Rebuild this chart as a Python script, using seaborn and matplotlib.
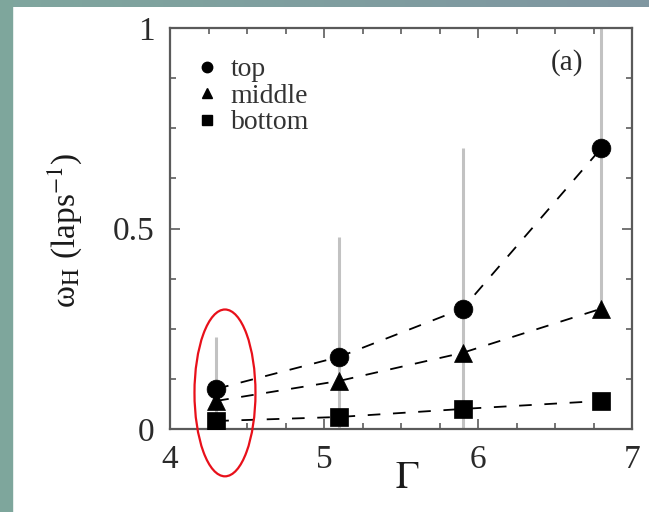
import numpy as np
import pandas as pd
import matplotlib
matplotlib.use("Agg")
import matplotlib.pyplot as plt
from matplotlib.patches import Ellipse, Rectangle
from matplotlib.lines import Line2D
from matplotlib.ticker import MultipleLocator
import seaborn as sns

# Hopping frequency versus shaking strength for three layer positions
gamma = [4.3, 5.1, 5.9, 6.8]
omega_top = [0.10, 0.18, 0.30, 0.70]
omega_middle = [0.07, 0.12, 0.19, 0.30]
omega_bottom = [0.02, 0.03, 0.05, 0.07]
top_err = [0.13, 0.30, 0.40, 0.40]
positions = ["top", "middle", "bottom"]
x_ticklabels = ["4", "5", "6", "7"]
y_ticklabels = ["0", "0.5", "1"]

sns.set_style("ticks")
plt.rcParams["font.family"] = ["Liberation Serif", "DejaVu Serif"]
plt.rcParams["mathtext.fontset"] = "stix"

df = pd.DataFrame({
    "Gamma": gamma * 3,
    "omega": omega_top + omega_middle + omega_bottom,
    "position": [p for p in positions for _ in gamma],
})

fig = plt.figure(figsize=(6.49, 5.12), dpi=100)
fig.patch.set_facecolor("white")

# slide frame: teal strip on the left, graded strip along the top
fig.patches.append(Rectangle((0, 0), 12 / 649, 1, transform=fig.transFigure,
                             color="#7ea69c", zorder=0))
band = fig.add_axes([0, 1 - 7 / 512, 1, 7 / 512])
grad = np.linspace(0, 1, 256)[None, :]
c0 = np.array([0x7f, 0xa6, 0x9e]) / 255
c1 = np.array([0x7f, 0x96, 0xa1]) / 255
band.imshow((c0[None, None, :] * (1 - grad[..., None]) + c1[None, None, :] * grad[..., None]),
            aspect="auto", extent=[0, 1, 0, 1])
band.set_axis_off()

ax = fig.add_axes([170 / 649, 1 - 429 / 512, 462 / 649, 401 / 512])

ax.errorbar(gamma, omega_top, yerr=top_err, fmt="none", ecolor="#c2c2c2",
            elinewidth=2.2, capsize=0, zorder=1)

sns.lineplot(data=df, x="Gamma", y="omega", hue="position", style="position",
             hue_order=positions, style_order=positions,
             palette={p: "black" for p in positions},
             markers={"top": "o", "middle": "^", "bottom": "s"},
             dashes={p: (7, 7) for p in positions},
             markersize=13.5, markeredgecolor="black", markeredgewidth=0.5,
             lw=1.3, errorbar=None, legend=False, ax=ax, zorder=3)

ax.set_xlim(4, 7)
ax.set_ylim(0, 1)
ax.set_xticks([4, 5, 6, 7], x_ticklabels)
ax.set_yticks([0, 0.5, 1], y_ticklabels)
ax.xaxis.set_minor_locator(MultipleLocator(0.25))
ax.yaxis.set_minor_locator(MultipleLocator(0.125))
ax.tick_params(which="both", direction="in", top=True, right=True,
               color="#5c5c5c", width=1.2)
ax.tick_params(which="major", length=7, labelsize=24, labelcolor="#2a2a2a")
ax.tick_params(which="minor", length=4)
ax.tick_params(axis="x", which="major", pad=11)
ax.tick_params(axis="y", which="major", pad=11)
for s in ax.spines.values():
    s.set_color("#5a5a5a")
    s.set_linewidth(1.6)
ax.set_xlabel("")
ax.set_ylabel("")

fig.text(407 / 649, 1 - 478 / 512, r"$\Gamma$", ha="center", va="center",
         fontsize=28, color="#1a1a1a")
fig.text(65 / 649, 1 - 230 / 512, r"ω$_{\rm H}$ (laps$^{-1}$)", ha="center",
         va="center", rotation=90, fontsize=24, color="#1a1a1a")

ax.text(0.859, 0.913, "(a)", transform=ax.transAxes, ha="center", va="center",
        fontsize=21, color="#2a2a2a")

handles = [
    Line2D([], [], marker="o", ls="none", color="black", markersize=7.5),
    Line2D([], [], marker="^", ls="none", color="black", markersize=6.5),
    Line2D([], [], marker="s", ls="none", color="black", markersize=7.5),
]
leg = ax.legend(handles, positions, loc="upper left", bbox_to_anchor=(0.05, 0.928),
                frameon=False, fontsize=20, borderpad=0, borderaxespad=0,
                handlelength=1.0, handletextpad=0.35, labelspacing=0.04)
for t in leg.get_texts():
    t.set_color("#333333")

# highlight of the lowest-Γ measurements
ax.add_patch(Ellipse((4.357, 0.09), 0.396, 0.416, fill=False, ec="#e8101a",
                     lw=1.6, clip_on=False, zorder=5))

fig.savefig("out.png", dpi=100)
